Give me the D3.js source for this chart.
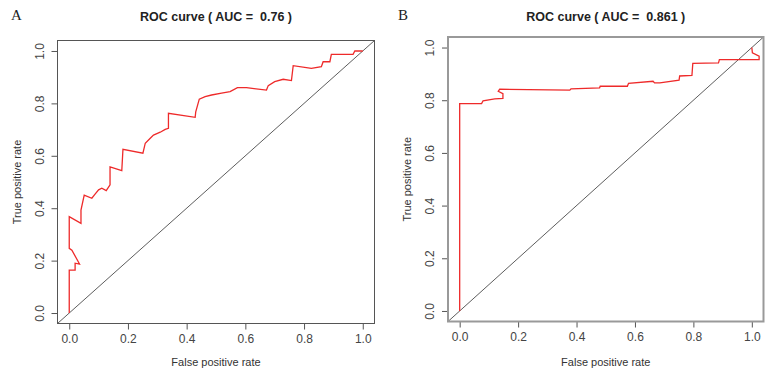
<!DOCTYPE html>
<html>
<head>
<meta charset="utf-8">
<script src="https://cdn.jsdelivr.net/npm/d3@7"></script>
<style>
  body { margin: 0; background: #fff; }
  svg { display: block; font-family: "Liberation Sans", Arial, sans-serif; }
</style>
</head>
<body>
<div id="chart"></div>
<script>
// ROC points
const rocA_fpr = [0, 0, 0.02, 0.02, 0.035, 0.009, 0, 0, 0.04, 0.04, 0.051, 0.077, 0.088, 0.10, 0.111, 0.126, 0.139, 0.139, 0.179, 0.183, 0.251, 0.259, 0.276, 0.287, 0.31, 0.327, 0.338, 0.338, 0.429, 0.431, 0.443, 0.463, 0.485, 0.519, 0.548, 0.573, 0.604, 0.672, 0.678, 0.70, 0.729, 0.757, 0.763, 0.825, 0.859, 0.865, 0.888, 0.893, 0.967, 0.973, 0.995, 1];
const rocA_tpr = [0, 0.164, 0.164, 0.19, 0.187, 0.24, 0.247, 0.368, 0.342, 0.393, 0.45, 0.438, 0.454, 0.47, 0.476, 0.467, 0.489, 0.558, 0.543, 0.625, 0.61, 0.648, 0.667, 0.679, 0.69, 0.701, 0.705, 0.762, 0.747, 0.768, 0.816, 0.826, 0.832, 0.839, 0.845, 0.86, 0.86, 0.851, 0.868, 0.883, 0.892, 0.887, 0.944, 0.934, 0.94, 0.959, 0.959, 0.987, 0.987, 1, 1, 1];

const rocB_fpr = [0, 0, 0.075, 0.08, 0.12, 0.148, 0.148, 0.132, 0.137, 0.377, 0.381, 0.479, 0.481, 0.574, 0.578, 0.662, 0.667, 0.685, 0.751, 0.753, 0.795, 0.798, 0.886, 0.889, 1.025, 1.025, 1.002, 1.0];
const rocB_tpr = [0, 0.787, 0.787, 0.798, 0.805, 0.807, 0.825, 0.834, 0.842, 0.838, 0.843, 0.847, 0.853, 0.853, 0.864, 0.872, 0.866, 0.866, 0.876, 0.892, 0.894, 0.94, 0.942, 0.954, 0.954, 0.967, 0.98, 1.0];

const tickValues = [0, 0.2, 0.4, 0.6, 0.8, 1.0];
const panelLetters = ["A", "B"];
const panelTitles = ["ROC curve ( AUC =  0.76 )", "ROC curve ( AUC =  0.861 )"];
const xLabel = "False positive rate";
const yLabel = "True positive rate";

const svg = d3.select("#chart").append("svg")
    .attr("width", 773)
    .attr("height", 375);

const panels = [
    { letter: panelLetters[0], title: panelTitles[0], fpr: rocA_fpr, tpr: rocA_tpr,
      x0: 57.5, x1: 374.5, y0: 40.5, y1: 323.5, letterX: 11, boxColor: "#555", boxWidth: 1 },
    { letter: panelLetters[1], title: panelTitles[1], fpr: rocB_fpr, tpr: rocB_tpr,
      x0: 448, x1: 763.5, y0: 37, y1: 321.5, letterX: 398, boxColor: "#999", boxWidth: 2 }
];

panels.forEach(p => {
    // R-style 4% padding around [0,1]
    const x = d3.scaleLinear().domain([-0.04, 1.04]).range([p.x0, p.x1]);
    const y = d3.scaleLinear().domain([-0.04, 1.04]).range([p.y1, p.y0]);
    const g = svg.append("g");

    g.append("text")
        .attr("x", p.letterX)
        .attr("y", 20)
        .style("font-family", "'Liberation Serif', 'Times New Roman', serif")
        .style("font-size", "15px")
        .style("fill", "#222")
        .text(p.letter);

    g.append("text")
        .attr("x", (p.x0 + p.x1) / 2)
        .attr("y", 21)
        .attr("text-anchor", "middle")
        .style("white-space", "pre")
        .style("font-weight", "bold")
        .style("font-size", "12.5px")
        .style("fill", "#222")
        .text(p.title);

    const xAxis = g.append("g")
        .attr("transform", `translate(0,${p.y1})`)
        .call(d3.axisBottom(x).tickValues(tickValues).tickFormat(d3.format(".1f")).tickSize(6).tickPadding(5).tickSizeOuter(0));
    xAxis.select(".domain").remove();
    xAxis.selectAll("line").attr("stroke", "#555");
    xAxis.selectAll("text")
        .style("font-size", "12px")
        .style("font-family", "'Liberation Sans', Arial, sans-serif")
        .style("fill", "#444");

    const yAxis = g.append("g")
        .attr("transform", `translate(${p.x0},0)`)
        .call(d3.axisLeft(y).tickValues(tickValues).tickFormat(d3.format(".1f")).tickSize(6).tickSizeOuter(0));
    yAxis.select(".domain").remove();
    yAxis.selectAll("line").attr("stroke", "#555");
    yAxis.selectAll("text")
        .attr("transform", "rotate(-90)")
        .attr("x", 0)
        .attr("y", -14)
        .attr("dy", 0)
        .attr("text-anchor", "middle")
        .style("font-size", "12px")
        .style("font-family", "'Liberation Sans', Arial, sans-serif")
        .style("fill", "#444");

    g.append("text")
        .attr("x", (p.x0 + p.x1) / 2)
        .attr("y", 366)
        .attr("text-anchor", "middle")
        .style("font-size", "11px")
        .style("fill", "#333")
        .text(xLabel);

    g.append("text")
        .attr("transform", `translate(${p.x0 - 37},${(p.y0 + p.y1) / 2}) rotate(-90)`)
        .attr("text-anchor", "middle")
        .style("font-size", "11px")
        .style("fill", "#333")
        .text(yLabel);

    // chance line, clipped to the plot box
    g.append("line")
        .attr("x1", x(-0.04)).attr("y1", y(-0.04))
        .attr("x2", x(1.04)).attr("y2", y(1.04))
        .attr("stroke", "#333")
        .attr("stroke-width", 0.8);

    const pts = p.fpr.map((f, i) => [f, p.tpr[i]]);
    g.append("path")
        .datum(pts)
        .attr("fill", "none")
        .attr("stroke", "#ee2a2a")
        .attr("stroke-width", 1.3)
        .attr("d", d3.line().x(d => x(d[0])).y(d => y(d[1])));

    g.append("rect")
        .attr("x", p.x0).attr("y", p.y0)
        .attr("width", p.x1 - p.x0).attr("height", p.y1 - p.y0)
        .attr("fill", "none")
        .attr("stroke", p.boxColor)
        .attr("stroke-width", p.boxWidth);
});
</script>
</body>
</html>
